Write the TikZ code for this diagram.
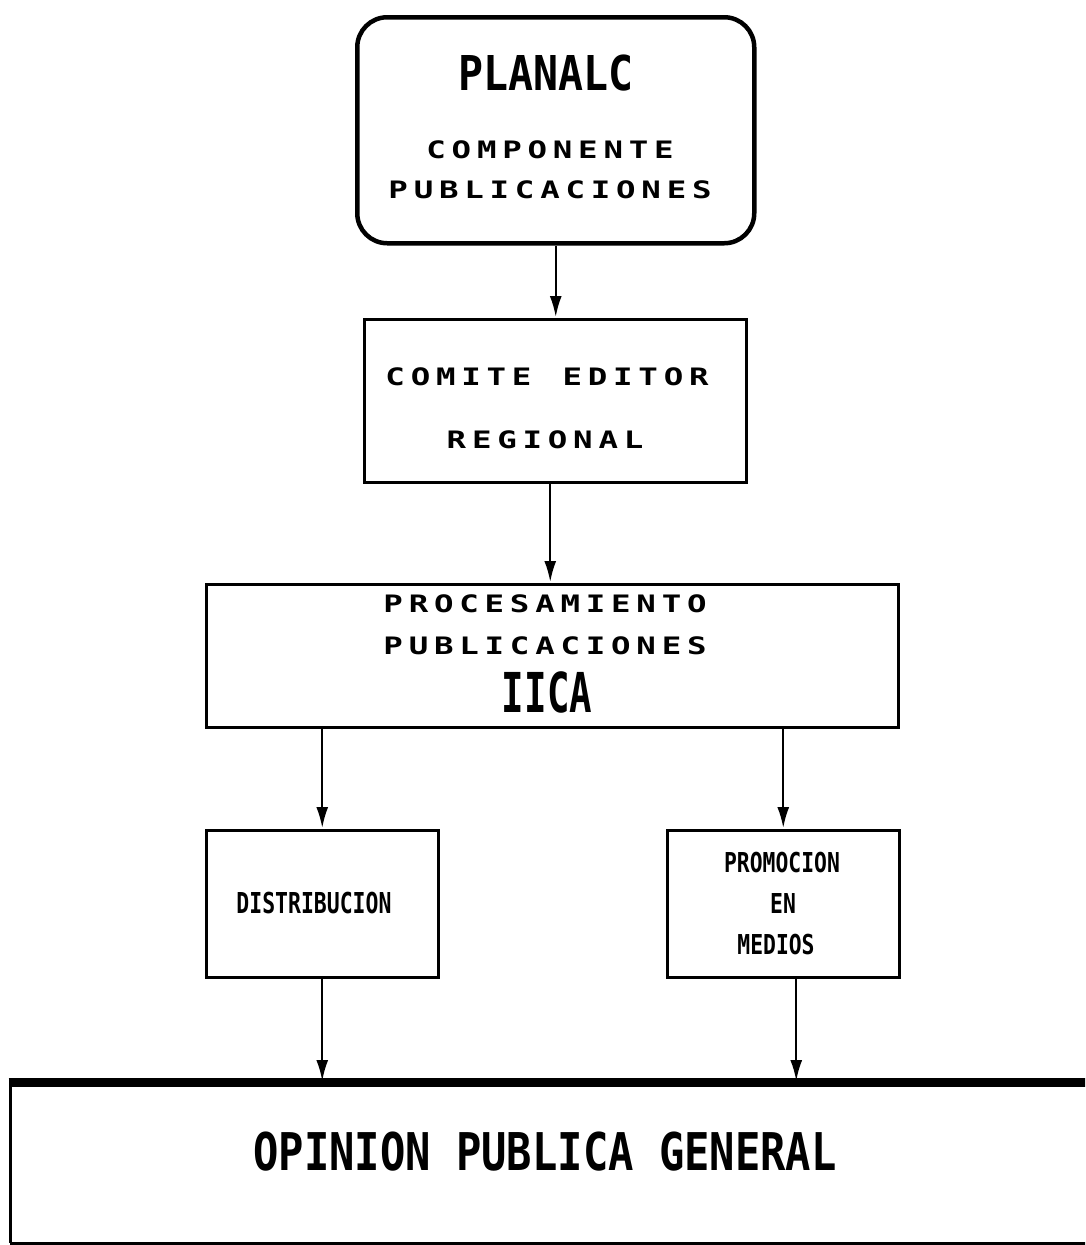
\documentclass[tikz,border=0pt]{standalone}
\usepackage{fontspec}
\usetikzlibrary{arrows.meta}
\newfontfamily\monof{DejaVu Sans Mono}
\def\spcloop#1{\ifx#1\relax\else\makebox[25.3pt]{\scalebox{1.35}[1]{#1}}\expandafter\spcloop\fi}
\newcommand\spaced[1]{{\monof\bfseries\fontsize{24}{24}\selectfont\spcloop#1\relax}}
\newcommand\bt[3]{\scalebox{#2}[1]{\monof\bfseries\fontsize{#1}{#1}\selectfont #3}}
\begin{document}
\begin{tikzpicture}[x=1pt,y=-1pt,
  box/.style={draw, line width=2.5pt, inner sep=0pt, anchor=north west},
  arr/.style={-{Latex[length=21pt,width=12pt]}, line width=2.2pt, shorten >=1pt},
  lab/.style={anchor=base, inner sep=0pt}]
\useasboundingbox (0,0) rectangle (1085,1245);
\clip (0,0) rectangle (1085,1245);
% boxes
\node[box, line width=4.5pt, rounded corners=30pt, minimum width=397pt, minimum height=226pt] (plan) at (355,15) {};
\node[box, minimum width=382pt, minimum height=163pt] (comite) at (363,318) {};
\node[box, minimum width=692pt, minimum height=143pt] (proc) at (205,583) {};
\node[box, minimum width=232pt, minimum height=147pt] (distrib) at (205,829) {};
\node[box, minimum width=232pt, minimum height=147pt] (promo) at (666,829) {};
\node[inner sep=0pt, anchor=north west, minimum width=1100pt, minimum height=161pt] (opinion) at (10,1082) {};
\draw[line width=9pt] ([xshift=-1.5pt]opinion.north west) -- (opinion.north east);
\draw[line width=3pt] (opinion.north west) -- (opinion.south west);
\draw[line width=2.5pt] (opinion.south west) -- (opinion.south east);
% texts
\node[lab] (t1) at (546,90) {\bt{48}{0.865}{PLANALC}};
\node[lab] (t2) at (550,158) {\spaced{COMPONENTE}};
\node[lab] (t3) at (550,198) {\spaced{PUBLICACIONES}};
\node[lab] (t4) at (547,385) {\spaced{COMITE~EDITOR}};
\node[lab] (t5) at (545,448) {\spaced{REGIONAL}};
\node[lab] (t6) at (545,612) {\spaced{PROCESAMIENTO}};
\node[lab] (t7) at (545,654) {\spaced{PUBLICACIONES}};
\node[lab] (t8) at (547,712) {\bt{55}{0.68}{IICA}};
\node[lab] (t9) at (314,913) {\bt{28.8}{0.745}{DISTRIBUCION}};
\node[lab] (t10) at (782,872) {\bt{27.4}{0.78}{PROMOCION}};
\node[lab] (t11) at (783,913) {\bt{27.4}{0.78}{EN}};
\node[lab] (t12) at (776,954) {\bt{27.4}{0.78}{MEDIOS}};
\node[lab] (t13) at (545,1170) {\bt{52}{0.81}{OPINION PUBLICA GENERAL}};
% connectors
\draw[arr] (plan.south) -- (plan.south |- comite.north);
\draw[arr] ([xshift=-5pt]comite.south) -- ([xshift=-5pt]comite.south |- proc.north);
\draw[arr] (distrib.north |- proc.south) -- (distrib.north);
\draw[arr] (promo.north |- proc.south) -- (promo.north);
\draw[arr] (distrib.south) -- (distrib.south |- opinion.north);
\draw[arr] ([xshift=13pt]promo.south) -- ([xshift=13pt]promo.south |- opinion.north);
\end{tikzpicture}
\end{document}
